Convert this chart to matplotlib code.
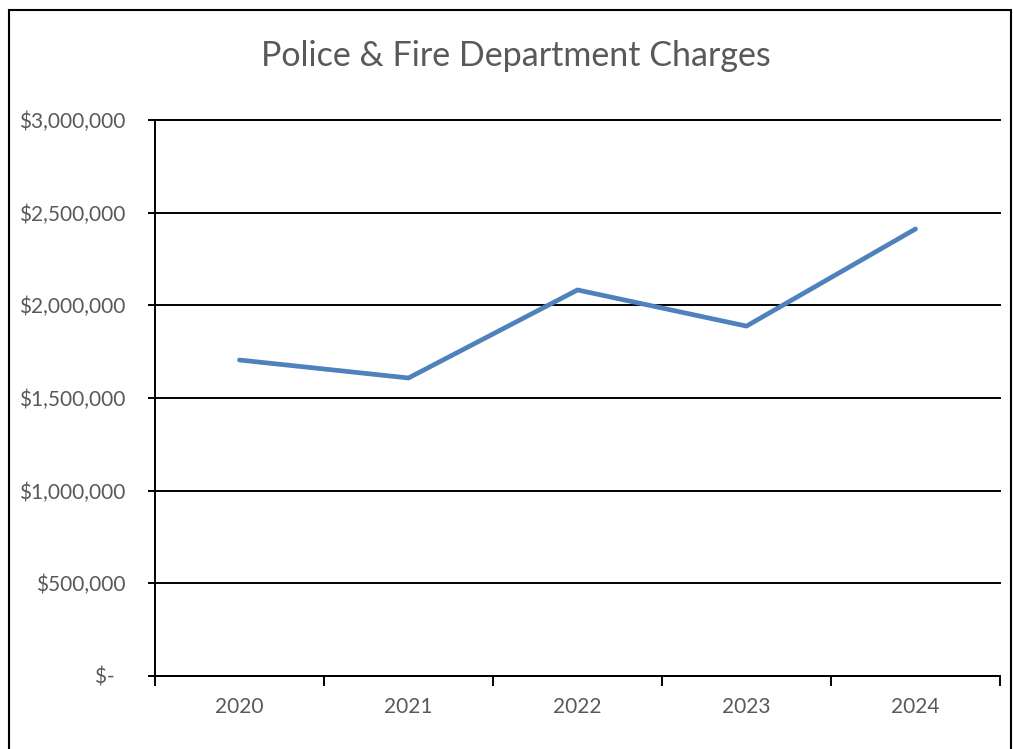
import numpy as np
import matplotlib.pyplot as plt
from matplotlib.patches import Rectangle

years = ["2020", "2021", "2022", "2023", "2024"]
charges = [1705000, 1608000, 2083000, 1888000, 2412000]
yticks = [0, 500000, 1000000, 1500000, 2000000, 2500000, 3000000]

plt.rcParams['font.family'] = ['Lato', 'DejaVu Sans']
grey = '#595959'

fig = plt.figure(figsize=(10.13, 7.49), dpi=100)
ax = fig.add_axes([155/1013, 1 - 676/749, 845/1013, 556/749])

x = np.arange(len(years))
ax.plot(x, charges, color='#4F81BD', lw=3.4, solid_capstyle='round', zorder=3)

ax.set_xlim(-0.5, len(years) - 0.5)
ax.set_ylim(0, 3000000)

ax.set_yticks(yticks)
ax.set_yticklabels(["$-  " if v == 0 else "${:,.0f}".format(v) for v in yticks])
ax.yaxis.grid(True, color='black', lw=1.4)
for gl in ax.get_ygridlines():
    gl.set_clip_on(False)
ax.set_axisbelow(True)

ax.set_xticks(x)
ax.set_xticklabels(years)
ax.set_xticks(np.arange(-0.5, len(years)), minor=True)
ax.tick_params(axis='x', which='major', length=0, pad=15, labelsize=15, labelcolor=grey)
ax.tick_params(axis='x', which='minor', length=7, width=1.4, direction='out')
ax.tick_params(axis='y', length=5, width=1.4, direction='out', pad=16, labelsize=15, labelcolor=grey)

for s in ['top', 'right']:
    ax.spines[s].set_visible(False)
for s in ['left', 'bottom']:
    ax.spines[s].set_linewidth(1.4)

fig.text(516/1013, 1 - 56/749, "Police & Fire Department Charges",
         ha='center', va='center', fontsize=24.5, color=grey)

fig.patches.append(Rectangle((9/1013, -0.1), 1002/1013, 1.1 - 10/749,
                             transform=fig.transFigure, fill=False,
                             edgecolor='black', lw=1.5))

fig.savefig('out.png', dpi=100)
